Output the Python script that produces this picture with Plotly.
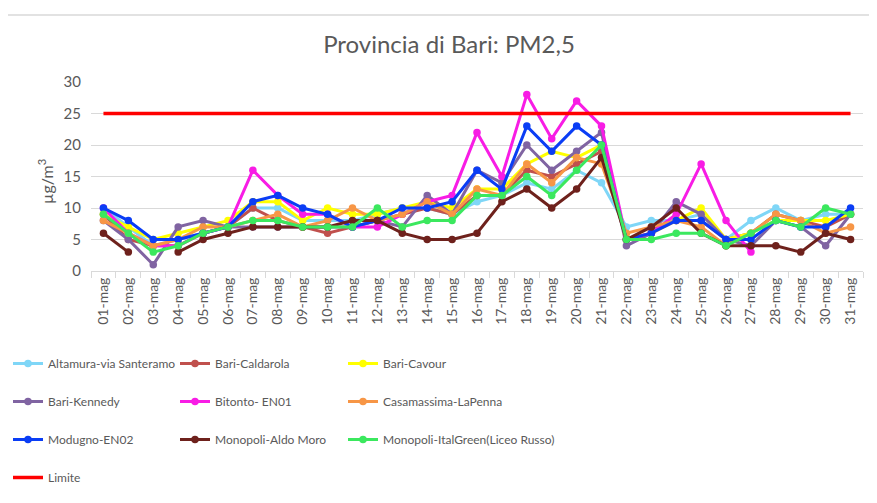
import plotly.graph_objects as go

days = [f"{d:02d}-mag" for d in range(1, 32)]

altamura = [10,7,4,5,6,7,10,10,8,8,8,9,10,10,9,11,12,14,13,16,14,7,8,8,9,5,8,10,8,9,9]
caldarola = [9,5,4,4,6,7,10,8,7,6,7,8,9,10,9,12,12,16,15,17,19,5,6,8,8,5,6,9,8,7,9]
cavour = [9,7,5,6,7,8,11,11,8,10,9,9,10,11,10,13,13,17,19,18,20,5,6,8,10,5,6,8,8,8,9]
kennedy = [8,5,1,7,8,7,7,7,7,7,7,8,7,12,9,16,14,20,16,19,22,4,6,11,9,5,4,8,7,4,9]
bitonto = [10,6,4,4,6,7,16,12,9,9,7,7,9,11,12,22,15,28,21,27,23,5,6,9,17,8,3,None,None,None,None]
casamassima = [8,6,4,5,7,7,8,9,7,8,10,8,9,11,9,13,12,17,14,18,17,6,7,8,7,4,6,9,8,6,7]
modugno = [10,8,5,5,6,7,11,12,10,9,7,8,10,10,11,16,13,23,19,23,20,5,6,8,8,5,5,8,7,7,10]
aldo_moro = [6,3,None,3,5,6,7,7,7,7,8,8,6,5,5,6,11,13,10,13,18,5,7,10,6,4,4,4,3,6,5]
italgreen = [9,6,3,4,6,7,8,8,7,7,7,10,7,8,8,12,12,15,12,16,20,5,5,6,6,4,6,8,7,10,9]
limite = [25] * 31

series = [
    ("Altamura-via Santeramo", altamura, "#7FD6F7", "legend"),
    ("Bari-Caldarola", caldarola, "#C0504D", "legend2"),
    ("Bari-Cavour", cavour, "#FFFF00", "legend3"),
    ("Bari-Kennedy", kennedy, "#8064A2", "legend"),
    ("Bitonto- EN01", bitonto, "#F81CE5", "legend2"),
    ("Casamassima-LaPenna", casamassima, "#F79646", "legend3"),
    ("Modugno-EN02", modugno, "#0A3DF5", "legend"),
    ("Monopoli-Aldo Moro", aldo_moro, "#6E211C", "legend2"),
    ("Monopoli-ItalGreen(Liceo Russo)", italgreen, "#3BE85E", "legend3"),
]

FONT = "Lato, Roboto, sans-serif"
GRAY = "#595959"
OFF = 8  # page body margin
W, H = 877 - OFF, 503 - OFF

def fx(p):
    return (p - OFF) / W

def fy(p):
    return (H - (p - OFF)) / H

fig = go.Figure()
for i, (name, vals, col, lg) in enumerate(series):
    fig.add_trace(go.Scatter(
        x=days, y=vals, name=name, mode="lines+markers",
        line=dict(color=col, width=3), marker=dict(color=col, size=7.5),
        legend=lg, legendgroup=f"g{i}", connectgaps=False,
    ))
fig.add_trace(go.Scatter(
    x=days, y=limite, name="Limite", mode="lines",
    line=dict(color="#FF0000", width=3.5), legend="legend", legendgroup="glim",
))

leg_common = dict(
    orientation="v", xanchor="left", yanchor="top",
    font=dict(family=FONT, size=12, color=GRAY),
    bgcolor="rgba(0,0,0,0)", tracegroupgap=19, itemwidth=30,
)

fig.update_layout(
    width=W, height=H,
    margin=dict(l=0, r=0, t=0, b=0),
    paper_bgcolor="white", plot_bgcolor="white",
    showlegend=True,
    title=dict(text="Provincia di Bari: PM2,5", x=fx(449), xref="container",
               y=fy(45), yref="container", yanchor="middle", xanchor="center",
               font=dict(family=FONT, size=24, color=GRAY)),
    xaxis=dict(
        domain=[fx(91), fx(863)],
        type="category", range=[-0.5, 30.5], tickangle=-90,
        tickfont=dict(family=FONT, size=14, color=GRAY),
        showline=True, linecolor="#D9D9D9", linewidth=1,
        ticks="outside", tickson="boundaries", ticklen=6, tickcolor="#D9D9D9",
        showgrid=False, automargin=False,
    ),
    yaxis=dict(
        domain=[fy(271), fy(82)],
        range=[0, 30], dtick=5, tickfont=dict(family=FONT, size=15, color=GRAY),
        showgrid=True, gridcolor="#D9D9D9", gridwidth=1, zeroline=False,
        showline=False, ticks="", automargin=False, ticklabelstandoff=9,
    ),
    legend=dict(x=fx(8), y=fy(349), **leg_common),
    legend2=dict(x=fx(175), y=fy(349), **leg_common),
    legend3=dict(x=fx(343), y=fy(349), **leg_common),
    annotations=[dict(
        text="µg/m<sup>3</sup>", textangle=-90, x=fx(45), y=fy(182),
        xref="paper", yref="paper", showarrow=False,
        xanchor="center", yanchor="middle",
        font=dict(family=FONT, size=16, color=GRAY),
    )],
    shapes=[
        dict(type="line", xref="paper", yref="paper", x0=fx(7), x1=fx(7),
             y0=fy(15), y1=fy(520), line=dict(color="#D9D9D9", width=1.5)),
        dict(type="line", xref="paper", yref="paper", x0=fx(7), x1=fx(900),
             y0=fy(15), y1=fy(15), line=dict(color="#D9D9D9", width=1.5)),
    ],
)

fig.write_html("out.html")
